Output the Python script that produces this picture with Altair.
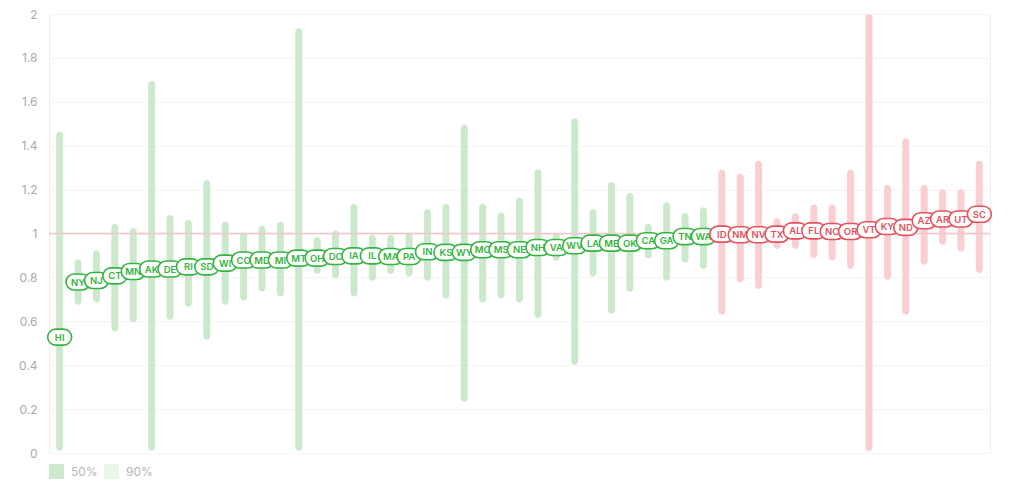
import altair as alt
import pandas as pd

states = ["HI", "NY", "NJ", "CT", "MN", "AK", "DE", "RI", "SD", "WI", "CO", "MD", "MI", "MT", "OH", "DC",
          "IA", "IL", "MA", "PA", "IN", "KS", "WY", "MO", "MS", "NE", "NH", "VA", "WV", "LA", "ME", "OK",
          "CA", "GA", "TN", "WA",
          "ID", "NM", "NV", "TX", "AL", "FL", "NC", "OR", "VT", "KY", "ND", "AZ", "AR", "UT", "SC"]
median = [0.528, 0.779, 0.786, 0.807, 0.827, 0.838, 0.838, 0.848, 0.848, 0.865, 0.879, 0.879, 0.879, 0.888, 0.888, 0.895,
          0.898, 0.898, 0.895, 0.895, 0.917, 0.914, 0.914, 0.926, 0.926, 0.926, 0.936, 0.936, 0.944, 0.956, 0.956, 0.956,
          0.967, 0.967, 0.986, 0.986,
          0.997, 0.994, 0.994, 0.997, 1.012, 1.012, 1.009, 1.009, 1.017, 1.032, 1.028, 1.058, 1.066, 1.066, 1.088]
low = [0.01, 0.675, 0.686, 0.554, 0.595, 0.01, 0.607, 0.665, 0.516, 0.675, 0.695, 0.736, 0.713, 0.01, 0.817, 0.795,
       0.713, 0.785, 0.815, 0.804, 0.785, 0.704, 0.234, 0.686, 0.704, 0.686, 0.615, 0.876, 0.402, 0.804, 0.634, 0.735,
       0.886, 0.785, 0.868, 0.838,
       0.63, 0.777, 0.747, 0.929, 0.929, 0.888, 0.877, 0.838, 0.008, 0.789, 0.63, 0.858, 0.949, 0.918, 0.82]
high = [1.464, 0.883, 0.923, 1.044, 1.025, 1.695, 1.084, 1.062, 1.244, 1.055, 1.005, 1.035, 1.055, 1.935, 0.984, 1.014,
        1.135, 0.994, 0.994, 1.005, 1.112, 1.135, 1.495, 1.135, 1.096, 1.164, 1.293, 1.005, 1.525, 1.112, 1.235, 1.184,
        1.044, 1.144, 1.093, 1.12,
        1.29, 1.272, 1.331, 1.07, 1.093, 1.132, 1.132, 1.29, 2.0, 1.222, 1.434, 1.222, 1.202, 1.202, 1.331]
group = ["below"] * 36 + ["above"] * 15
legend_labels = ["50%", "90%"]
y_ticks = [0, 0.2, 0.4, 0.6, 0.8, 1, 1.2, 1.4, 1.6, 1.8, 2]

GREEN = "#33b540"
RED = "#e8505b"
GREEN50 = "#cde9cd"
GREEN90 = "#eaf6ea"
REDBAR = "#f9cfd4"

df = pd.DataFrame({"state": states, "median": median, "low": low, "high": high, "group": group})
df["band"] = ["50%" if g == "below" else "above" for g in group]

x = alt.X("state:N", sort=states, axis=None, scale=alt.Scale(paddingInner=0, paddingOuter=0.08))
yscale = alt.Scale(domain=[0, 2], nice=False)

base = alt.Chart(df)

bars = base.mark_bar(width=7, cornerRadius=3.5).encode(
    x=x,
    y=alt.Y("low:Q", scale=yscale, title=None,
            axis=alt.Axis(values=y_ticks, format=".1~f", ticks=False, domain=False,
                          labelPadding=12, labelColor="#aaaaaa", labelFontSize=12,
                          labelFont="Inter", gridColor="#f4f4f4", gridWidth=1)),
    y2="high:Q",
    color=alt.Color("band:N",
                    scale=alt.Scale(domain=["50%", "90%", "above"], range=[GREEN50, GREEN90, REDBAR]),
                    legend=alt.Legend(values=legend_labels, title=None, orient="none",
                                      legendX=0, legendY=450, direction="horizontal",
                                      symbolType="square", symbolSize=225, symbolStrokeWidth=0,
                                      labelFontSize=12, labelColor="#b5b5b5", labelFont="Inter",
                                      labelOffset=7, columnPadding=6)),
)

ref = alt.Chart(pd.DataFrame({"y": [1]})).mark_rule(color="#f6c5ca", strokeWidth=1.5).encode(
    y=alt.Y("y:Q", scale=yscale))

pill_path = ("M-0.333,-0.667 L0.333,-0.667 A0.667,0.667 0 0 1 0.333,0.667 "
             "L-0.333,0.667 A0.667,0.667 0 0 1 -0.333,-0.667 Z")

label_layers = []
for s in states:
    sub = base.transform_filter(alt.datum.state == s)
    pill = sub.mark_point(shape=pill_path, size=576, filled=False, fill="white",
                          fillOpacity=1, strokeWidth=1.6, opacity=1).encode(
        x=x,
        y=alt.Y("median:Q", scale=yscale),
        stroke=alt.condition(alt.datum.group == "above", alt.value(RED), alt.value(GREEN)),
    )
    txt = sub.mark_text(fontSize=9.5, fontWeight=600, font="Inter", dy=0.5).encode(
        x=x,
        y=alt.Y("median:Q", scale=yscale),
        text="state:N",
        color=alt.condition(alt.datum.group == "above", alt.value(RED), alt.value(GREEN)),
    )
    label_layers += [pill, txt]

chart = alt.layer(bars, ref, *label_layers).properties(
    width=941, height=439,
    autosize=alt.AutoSizeParams(type="none"),
    padding={"left": 41, "top": 6, "right": 10, "bottom": 38},
).configure_view(stroke="#eeeeee", strokeWidth=1)

chart.save("out.html", embed_options={"renderer": "svg", "actions": False})
